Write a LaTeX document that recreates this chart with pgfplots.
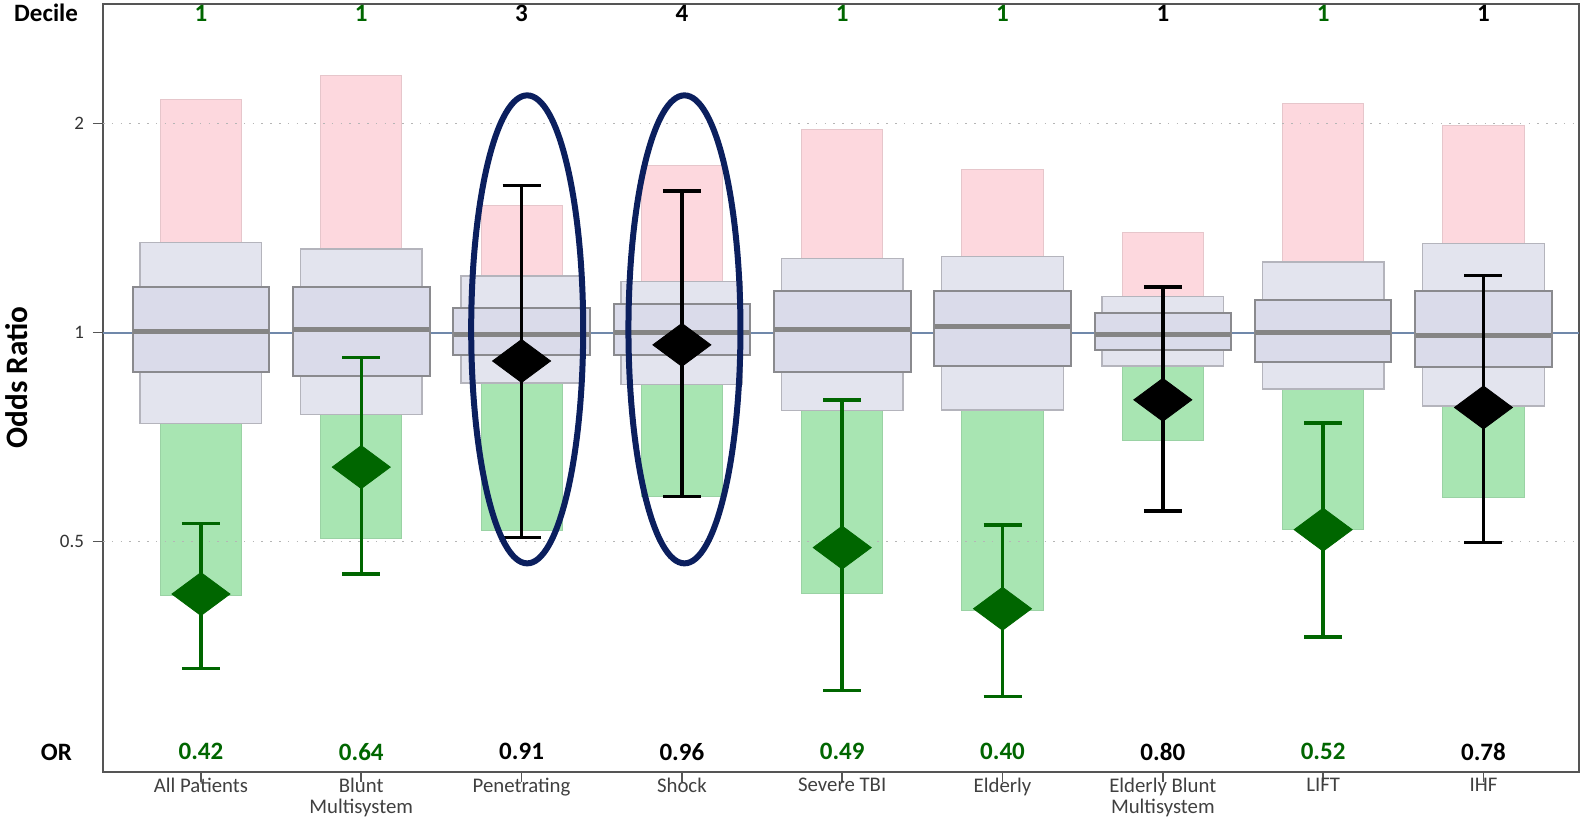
\documentclass[border=0pt]{standalone}
\usepackage{fontspec}
\setmainfont{Carlito}
\usepackage{pgfplots}
\usepackage{pgfplotstable}
\pgfplotsset{compat=1.18}

\definecolor{pinkf}{HTML}{FDD8DE}
\definecolor{pinkd}{HTML}{E6C6CB}
\definecolor{greenf}{HTML}{A8E5B2}
\definecolor{greend}{HTML}{9AD2A4}
\definecolor{outf}{HTML}{E3E4EE}
\definecolor{outd}{HTML}{B4B4BC}
\definecolor{inf}{HTML}{DADBEA}
\definecolor{ind}{HTML}{8A8A8E}
\definecolor{medc}{HTML}{858585}
\definecolor{refc}{HTML}{7088AA}
\definecolor{dkg}{HTML}{006600}
\definecolor{navy}{HTML}{0B1F5E}
\definecolor{framec}{HTML}{555555}
\definecolor{gridc}{HTML}{B5B5B5}
\definecolor{catc}{HTML}{404040}

% x = category, ph = pink top, oh/ol = outer box, ih/il = inner box, md = median,
% gl = green bottom, wh/wl = whisker ends, orv = odds ratio, dec = decile, cc = colour
\pgfplotstableread{
x ph    oh    ih    md    il    ol    gl    wh    wl    orv  lab  dec cc
0 2.164 1.347 1.165 1.005 0.877 0.740 0.418 0.531 0.328 0.42 0.42 1 dkg
1 2.345 1.320 1.162 1.009 0.866 0.762 0.505 0.920 0.449 0.64 0.64 1 dkg
2 1.522 1.207 1.084 0.995 0.927 0.846 0.519 1.628 0.507 0.91 0.91 3 black
3 1.738 1.184 1.101 1.000 0.929 0.841 0.580 1.600 0.580 0.96 0.96 4 black
4 1.965 1.278 1.149 1.009 0.877 0.773 0.421 0.800 0.305 0.49 0.49 1 dkg
5 1.717 1.287 1.146 1.020 0.895 0.774 0.398 0.528 0.299 0.40 0.40 1 dkg
6 1.393 1.128 1.068 0.995 0.944 0.895 0.700 1.163 0.553 0.80 0.80 1 black
7 2.140 1.263 1.114 1.000 0.906 0.829 0.520 0.741 0.364 0.52 0.52 1 dkg
8 1.985 1.345 1.146 0.991 0.892 0.784 0.578 1.208 0.498 0.78 0.78 1 black
}\data

\newcommand{\rectp}[5]{% style, x, halfwidth, lo, hi
  \pgfmathsetmacro\xa{#2-#3}%
  \pgfmathsetmacro\xb{#2+#3}%
  \edef\tmp{\noexpand\addplot[#1] coordinates {(\xa,#4) (\xb,#4) (\xb,#5) (\xa,#5)} -- cycle;}%
  \tmp}
\newcommand{\hsegm}[4]{% style, x, halfwidth, y
  \pgfmathsetmacro\xa{#2-#3}%
  \pgfmathsetmacro\xb{#2+#3}%
  \edef\tmp{\noexpand\addplot[#1] coordinates {(\xa,#4) (\xb,#4)};}%
  \tmp}

\pgfplotsset{
  pinkbar/.style={fill=pinkf, draw=pinkd, line width=0.5pt},
  greenbar/.style={fill=greenf, draw=greend, line width=0.5pt},
  outbox/.style={fill=outf, draw=outd, line width=0.7pt},
  inbox/.style={fill=inf, draw=ind, line width=1pt},
  medline/.style={medc, line width=2.5pt},
}
\tikzset{boldlab/.style={font=\fontsize{12.5}{14}\selectfont\bfseries}}

\begin{document}
\begin{tikzpicture}
\begin{axis}[
  scale only axis,
  width=738pt, height=384pt,
  xmin=-0.611, xmax=8.596,
  ymode=log, log basis y=2,
  ymin=0.2327, ymax=2.975,
  ytick={0.5,1,2}, yticklabels={0.5,1,2},
  xtick={0,...,8},
  xticklabels={All Patients,{Blunt\\Multisystem},Penetrating,Shock,Severe TBI,Elderly,{Elderly Blunt\\Multisystem},LIFT,IHF},
  xtick pos=bottom, ytick pos=left,
  tick align=outside,
  major tick length=5pt,
  axis line style={framec, line width=1pt},
  tick style={framec, line width=0.8pt},
  yticklabel style={font=\fontsize{9.5}{11}\selectfont, text=black!80, xshift=-1pt},
  xticklabel style={font=\fontsize{10.4}{10.5}\selectfont, text=catc, align=center, inner sep=0pt, yshift=2pt},
  ylabel={Odds Ratio},
  ylabel style={font=\fontsize{15.6}{18}\selectfont\bfseries, at={(rel axis cs:-0.0586,0.514)}, anchor=center},
  clip=false,
]
% reference line at OR = 1
\addplot[refc, line width=1pt] coordinates {(-0.611,1) (8.596,1)};

% boxes and bars
\pgfplotsinvokeforeach{0,...,8}{
  \pgfplotstablegetelem{#1}{ph}\of\data\let\vph\pgfplotsretval
  \pgfplotstablegetelem{#1}{oh}\of\data\let\voh\pgfplotsretval
  \pgfplotstablegetelem{#1}{ih}\of\data\let\vih\pgfplotsretval
  \pgfplotstablegetelem{#1}{md}\of\data\let\vmd\pgfplotsretval
  \pgfplotstablegetelem{#1}{il}\of\data\let\vil\pgfplotsretval
  \pgfplotstablegetelem{#1}{ol}\of\data\let\vol\pgfplotsretval
  \pgfplotstablegetelem{#1}{gl}\of\data\let\vgl\pgfplotsretval
  \rectp{pinkbar}{#1}{0.253}{\voh}{\vph}
  \rectp{greenbar}{#1}{0.253}{\vgl}{\vol}
  \rectp{outbox}{#1}{0.379}{\vol}{\voh}
  \rectp{inbox}{#1}{0.426}{\vil}{\vih}
  \hsegm{medline}{#1}{0.423}{\vmd}
}

% dotted grid lines
\addplot[gridc, line width=0.8pt, dash pattern=on 0.8pt off 3.6pt] coordinates {(-0.611,2) (8.596,2)};
\addplot[gridc, line width=0.8pt, dash pattern=on 0.8pt off 3.6pt] coordinates {(-0.611,0.5) (8.596,0.5)};

% whiskers, diamonds, labels
\pgfplotsinvokeforeach{0,...,8}{
  \pgfplotstablegetelem{#1}{wh}\of\data\let\vwh\pgfplotsretval
  \pgfplotstablegetelem{#1}{wl}\of\data\let\vwl\pgfplotsretval
  \pgfplotstablegetelem{#1}{orv}\of\data\let\vor\pgfplotsretval
  \pgfplotstablegetelem{#1}{lab}\of\data\let\vlab\pgfplotsretval
  \pgfplotstablegetelem{#1}{dec}\of\data\let\vdec\pgfplotsretval
  \pgfplotstablegetelem{#1}{cc}\of\data\let\vcc\pgfplotsretval
  \edef\tmp{\noexpand\addplot[\vcc, line width=1.75pt] coordinates {(#1,\vwl) (#1,\vwh)};}\tmp
  \hsegm{\vcc, line width=1.75pt}{#1}{0.1185}{\vwh}
  \hsegm{\vcc, line width=1.75pt}{#1}{0.1185}{\vwl}
  \edef\tmp{\noexpand\addplot[only marks, mark=diamond*, mark size=10.75pt, \vcc, mark options={xscale=1.8}] coordinates {(#1,\vor)};}\tmp
  \edef\tmp{\noexpand\node[boldlab, text=\vcc] at (axis cs:#1,2.887) {\vdec};}\tmp
  \edef\tmp{\noexpand\node[boldlab, text=\vcc] at (axis cs:#1,0.2488) {\vlab};}\tmp
}

\node[boldlab, anchor=east] at (rel axis cs:-0.0122,0.988) {Decile};
\node[boldlab, anchor=east] at (rel axis cs:-0.0163,0.026) {OR};

% highlight ellipses
\draw[navy, line width=3pt] (axis cs:2.035,1.0107) ellipse [x radius=28pt, y radius=117pt];
\draw[navy, line width=3pt] (axis cs:3.016,1.0107) ellipse [x radius=28pt, y radius=117pt];
\end{axis}
\pgfresetboundingbox
\path ([shift={(-51.5pt,-22.5pt)}]current axis.south west) rectangle ([shift={(2pt,2pt)}]current axis.north east);
\end{tikzpicture}
\end{document}
